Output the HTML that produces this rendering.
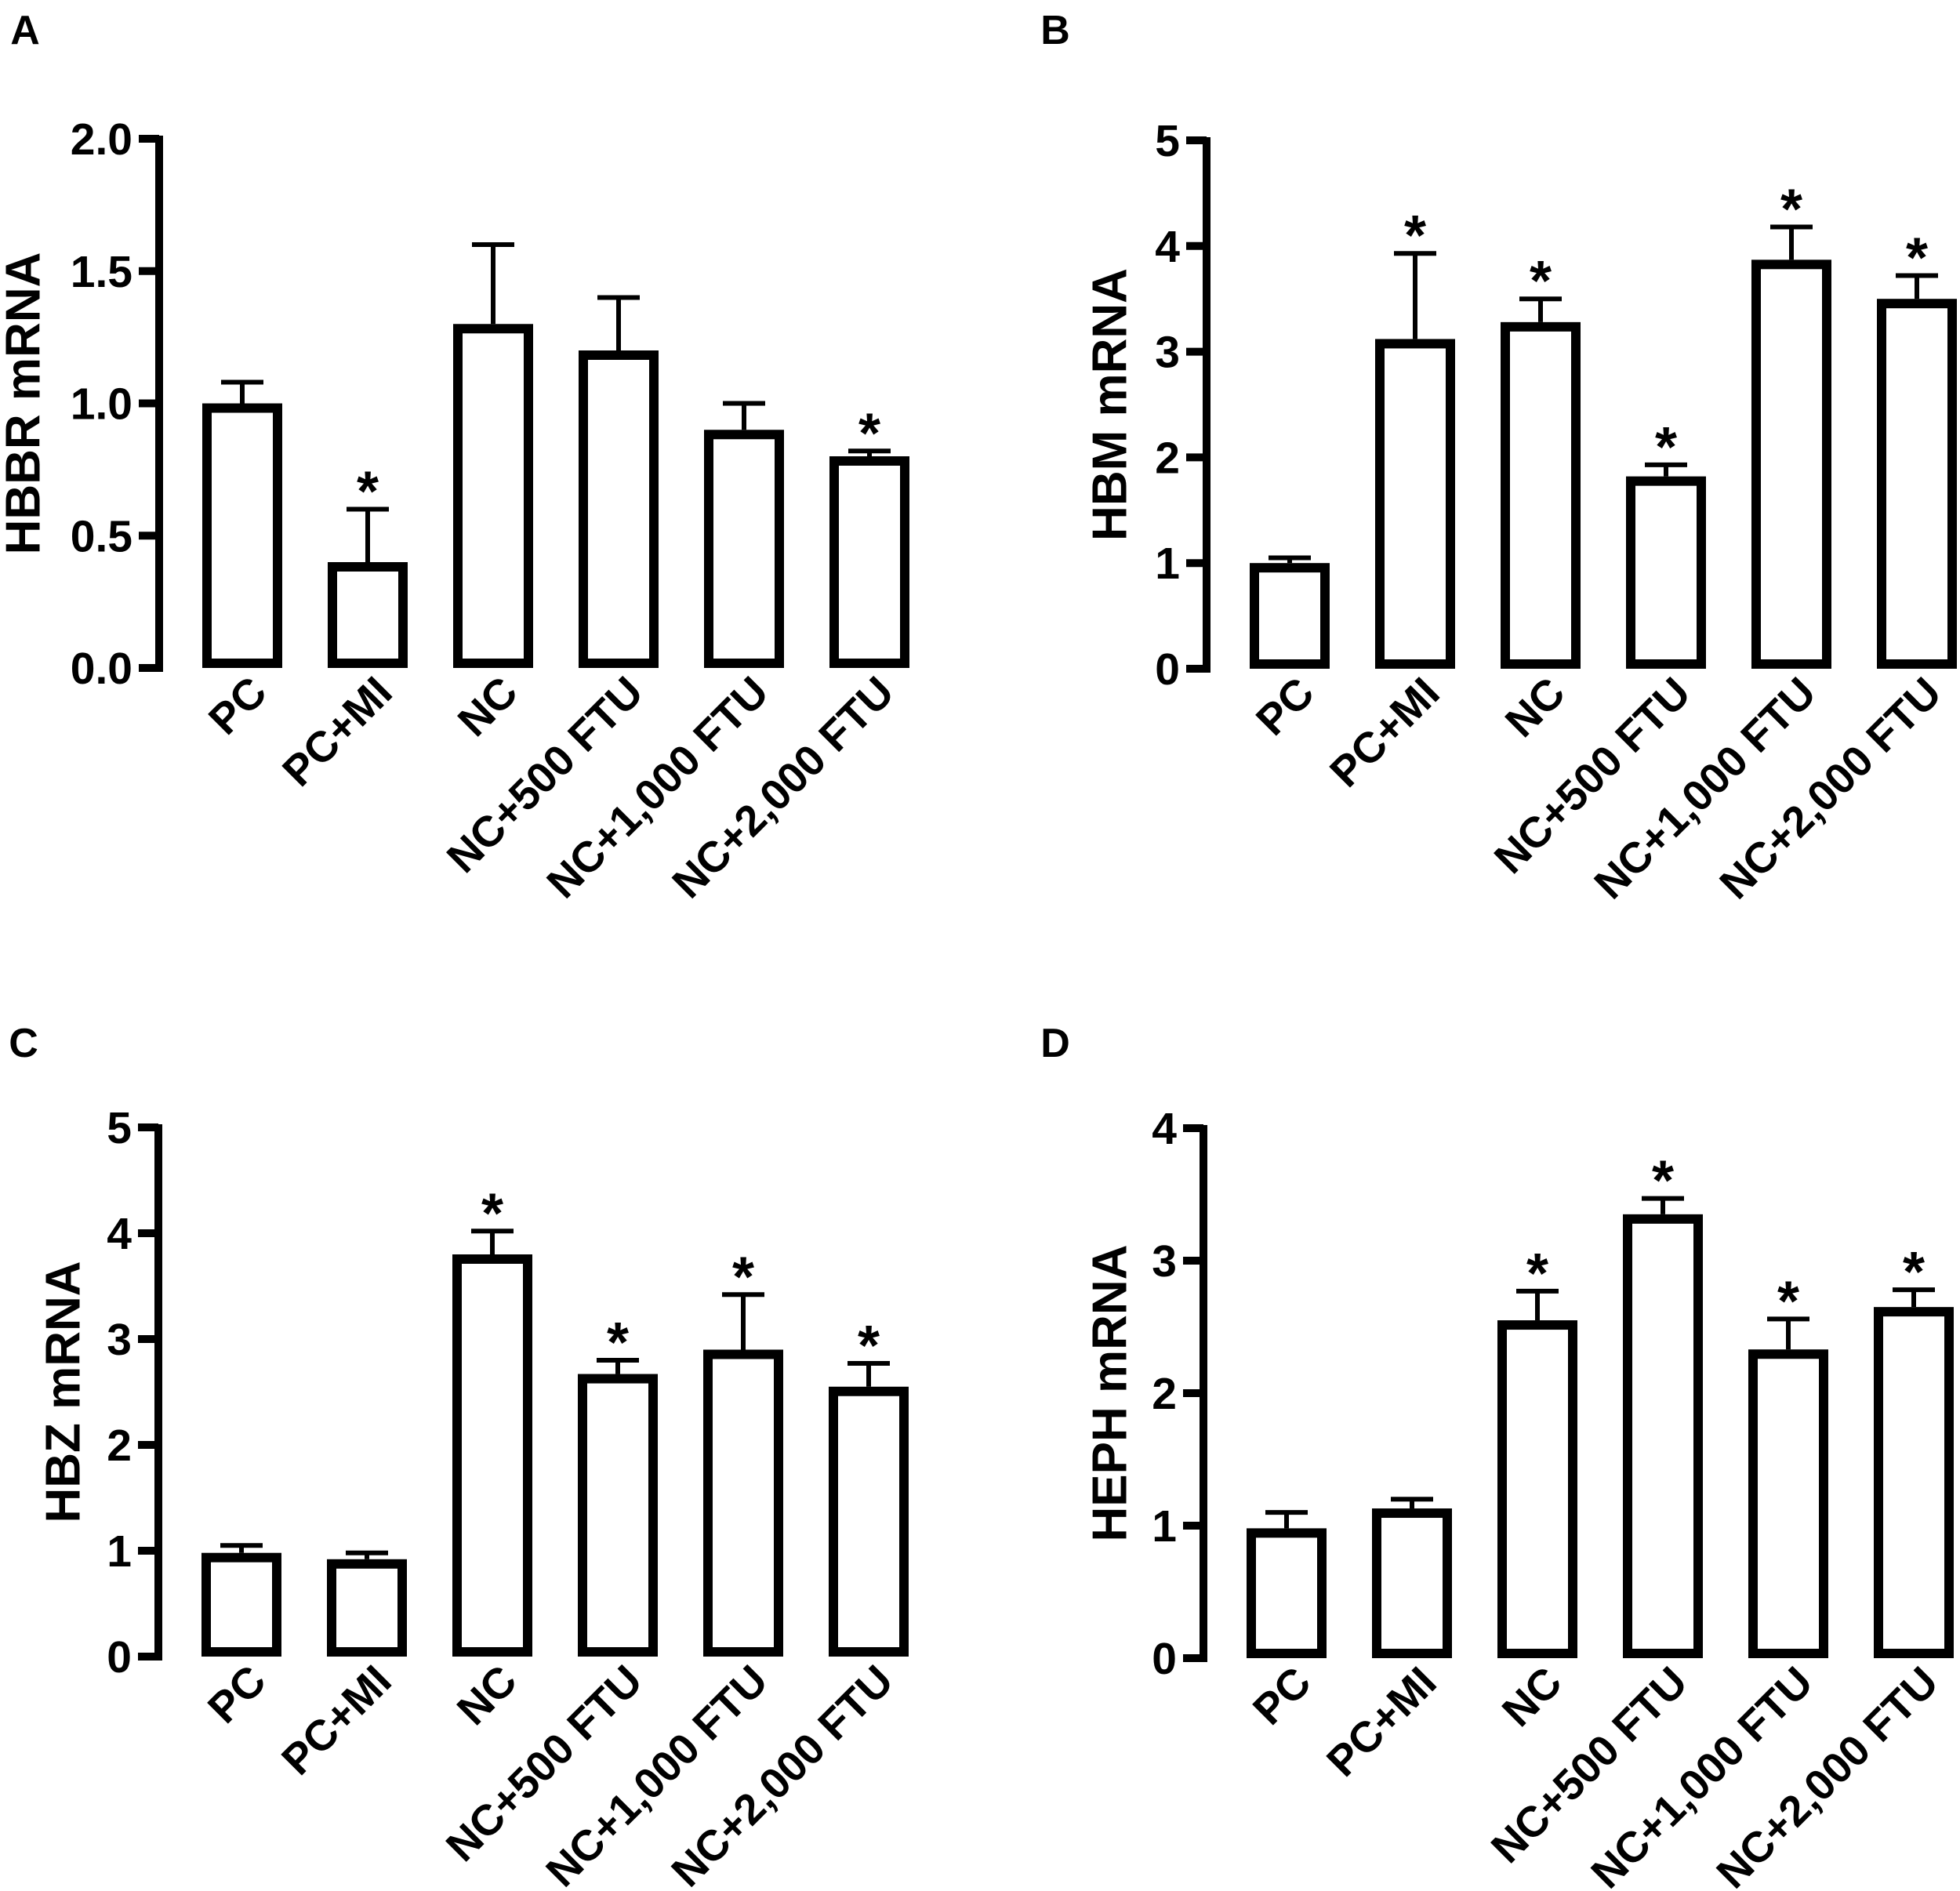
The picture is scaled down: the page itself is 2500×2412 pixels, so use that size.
<!DOCTYPE html>
<html><head><meta charset="utf-8"><style>
html,body{margin:0;padding:0;background:#fff;}
svg{display:block;}
text{font-family:"Liberation Sans",Arial,sans-serif;font-weight:bold;fill:#000;}
</style></head><body>
<svg id="fig" width="2500" height="2412" viewBox="0 0 2500 2412" xmlns="http://www.w3.org/2000/svg"></svg>
<script>
const categories = ["PC","PC+MI","NC","NC+500 FTU","NC+1,000 FTU","NC+2,000 FTU"];
const valuesA = [1.0,0.4,1.3,1.2,0.9,0.8];
const errTopA = [1.08,0.6,1.6,1.4,1.0,0.82];
const starsA = [false,true,false,false,false,true];
const ticksA = ["0.0","0.5","1.0","1.5","2.0"];
const valuesB = [1.0,3.12,3.28,1.82,3.87,3.5];
const errTopB = [1.05,3.93,3.5,1.93,4.18,3.72];
const starsB = [false,true,true,true,true,true];
const ticksB = ["0","1","2","3","4","5"];
const valuesC = [0.98,0.92,3.8,2.67,2.9,2.55];
const errTopC = [1.05,0.98,4.02,2.8,3.42,2.77];
const starsC = [false,false,true,true,true,true];
const ticksC = ["0","1","2","3","4","5"];
const valuesD = [0.98,1.13,2.55,3.35,2.33,2.65];
const errTopD = [1.1,1.2,2.77,3.47,2.56,2.78];
const starsD = [false,false,true,true,true,true];
const ticksD = ["0","1","2","3","4"];

const NS="http://www.w3.org/2000/svg";
const svg=document.getElementById('fig');
function mk(tag,attrs,parent){const e=document.createElementNS(NS,tag);for(const k in attrs)e.setAttribute(k,attrs[k]);(parent||svg).appendChild(e);return e;}

function panel(id,letter,lx,ly,ax,y0,yTop,ticks,vals,errs,stars,title,titleX){
  const g=mk('g',{});
  
  
  const ymax=parseFloat(ticks[ticks.length-1]);
  const ys=v=>y0-(v/ymax)*(y0-yTop);
  const xc=i=>ax+106+160*i;
  const pl=mk('text',{x:lx,y:ly,'font-size':52,'text-anchor':'middle'},g);pl.textContent=letter;
  
  
  const axis=mk('line',{x1:ax,y1:yTop-4,x2:ax,y2:y0+5,stroke:'#000','stroke-width':10},g);
  
  
  ticks.forEach(t=>{
    const y=ys(parseFloat(t));
    const tk=mk('line',{x1:ax-26,y1:y,x2:ax,y2:y,stroke:'#000','stroke-width':10},g);
    
    
    const tl=mk('text',{x:ax-34,y:y+20,'font-size':57,'text-anchor':'end'},g);tl.textContent=t;
    
    
  });
  const ym=(y0+yTop)/2;
  const tt=mk('text',{x:titleX,y:ym,'font-size':62,'text-anchor':'middle','dominant-baseline':'central',transform:`rotate(-90 ${titleX} ${ym})`},g);
  tt.textContent=title;
  
  
  vals.forEach((v,i)=>{
    const cx=xc(i), yv=ys(v), ye=ys(errs[i]);
    const el=mk('line',{x1:cx,y1:yv,x2:cx,y2:ye,stroke:'#000','stroke-width':6},g);
    
    
    const cap=mk('line',{x1:cx-27,y1:ye,x2:cx+27,y2:ye,stroke:'#000','stroke-width':6},g);
    
    
    const r=mk('rect',{x:cx-45,y:yv+6,width:90,height:Math.max(0,y0-6-yv-6),fill:'#fff',stroke:'#000','stroke-width':12},g);
    
    
    if(stars[i]){
      const s=mk('text',{x:cx,y:ye+2,'font-size':72,'font-weight':'normal','text-anchor':'middle'},g);s.textContent='*';
      
      
    }
    const lx2=cx+6, ly2=y0+6;
    const xl=mk('text',{x:lx2,y:ly2,'font-size':55,'text-anchor':'end','dominant-baseline':'hanging',transform:`rotate(-45 ${lx2} ${ly2})`},g);
    xl.textContent=categories[i];
    
    
  });
}
panel('a','A',32,56,203,852,177,ticksA,valuesA,errTopA,starsA,'HBBR mRNA',30);
panel('b','B',1346,56,1539,853,179,ticksB,valuesB,errTopB,starsB,'HBM mRNA',1416);
panel('c','C',30,1348,202,2113,1438,ticksC,valuesC,errTopC,starsC,'HBZ mRNA',81);
panel('d','D',1346,1348,1535,2115,1439,ticksD,valuesD,errTopD,starsD,'HEPH mRNA',1416);
</script>
</body></html>
